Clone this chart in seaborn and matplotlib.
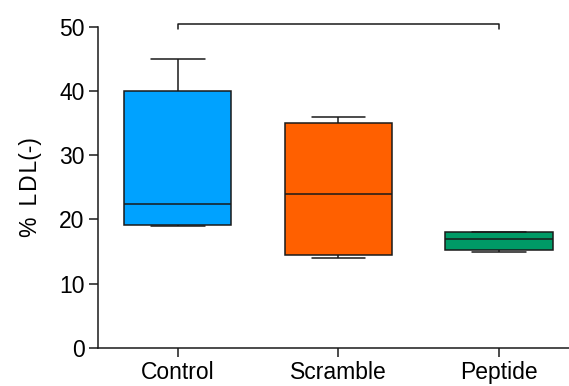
import matplotlib
matplotlib.use("Agg")
import matplotlib.pyplot as plt
import seaborn as sns
import pandas as pd

categories = ["Control", "Scramble", "Peptide"]
control = [19.0, 19.2, 22.4, 40.0, 45.0]
scramble = [14.0, 14.5, 24.0, 35.0, 36.0]
peptide = [15.0, 15.2, 17.0, 18.0, 18.0]
colors = ["#00A2FF", "#FF6000", "#009A66"]
yticks = [0, 10, 20, 30, 40, 50]

df = pd.DataFrame({
    "group": [categories[0]] * len(control) + [categories[1]] * len(scramble) + [categories[2]] * len(peptide),
    "value": control + scramble + peptide,
})

sns.set_style("ticks")
plt.rcParams["font.family"] = ["Liberation Sans", "DejaVu Sans"]
plt.rcParams["text.color"] = "black"
plt.rcParams["axes.labelcolor"] = "black"
plt.rcParams["xtick.color"] = "black"
plt.rcParams["ytick.color"] = "black"

fig = plt.figure(figsize=(5.69, 3.86), dpi=100)
ax = fig.add_axes([0.1717, 0.0984, 0.8283, 0.8325])

sns.boxplot(data=df, x="group", y="value", hue="group", order=categories,
            hue_order=categories, palette=colors, legend=False, whis=(0, 100),
            width=0.667, linecolor="#1a1a1a", linewidth=1.1, saturation=1,
            ax=ax)

ax.set_xlim(-0.5, 2.436)
ax.set_ylim(0, 50)
ax.set_yticks(yticks)
ax.set_xlabel("")
ax.set_ylabel("%\u2009 L\u200aD\u200aL(-)", fontsize=16.5, labelpad=12)
ax.tick_params(axis="both", labelsize=16.5, width=1.1, length=6.5, color="#1a1a1a", pad=3)
for side in ["top", "right"]:
    ax.spines[side].set_visible(False)
for side in ["left", "bottom"]:
    ax.spines[side].set_linewidth(1.1)
    ax.spines[side].set_color("#1a1a1a")

# significance bracket between Control and Peptide
ax.plot([0, 0, 2, 2], [49.7, 50.4, 50.4, 49.7], color="#1a1a1a", lw=1.1, clip_on=False)

fig.savefig("out.png", dpi=100)
